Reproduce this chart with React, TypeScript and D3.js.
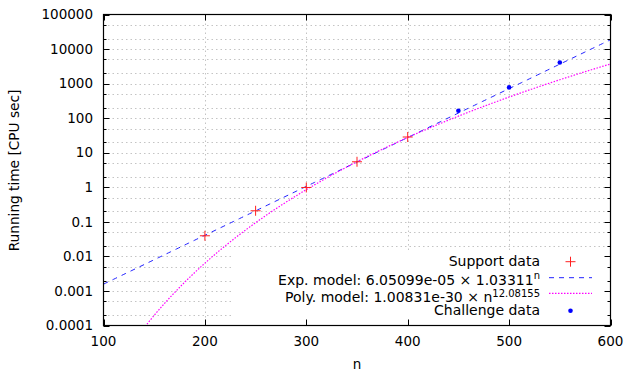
import React from "react";
import * as d3 from "d3";

// ---- data ----
const supportN = [200, 250, 300, 350, 400];
const supportT = [0.0395, 0.209, 0.986, 5.47, 28.5];
const challengeN = [450, 500, 550];
const challengeT = [164, 776, 4070];
const expA = 6.05099e-5;
const expB = 1.03311;
const polyA = 1.00831e-30;
const polyK = 12.08155;
const xTicks = [100, 200, 300, 400, 500, 600];
const yTicks = [1e-4, 1e-3, 1e-2, 1e-1, 1, 10, 100, 1000, 10000, 100000];
const yTickLabels = ["0.0001", "0.001", "0.01", "0.1", "1", "10", "100", "1000", "10000", "100000"];
const legendLabels = ["Support data", "Exp. model: 6.05099e-05 × 1.03311", "Poly. model: 1.00831e-30 × n", "Challenge data"];
const legendSups = ["", "n", "12.08155", ""];

const W = 628, H = 371;
const L = 103.5, R = 610.5, T = 14.5, B = 325.5;
const FONT = "'DejaVu Sans', sans-serif";
const FS = 13.5;

export default function App() {
  const x = d3.scaleLinear().domain([100, 600]).range([L, R]);
  const y = d3.scaleLog().domain([1e-4, 1e5]).range([B, T]);

  const ns = d3.range(100, 600.01, 2);
  const expLine = d3.line<number>().x((n) => x(n)).y((n) => y(expA * Math.pow(expB, n)));
  const polyLine = d3.line<number>().x((n) => x(n)).y((n) => y(polyA * Math.pow(n, polyK)));

  const minor: number[] = [];
  for (let k = -4; k <= 4; k++) {
    minor.push(2 * Math.pow(10, k), 5 * Math.pow(10, k));
  }
  const gridY = [...yTicks.slice(1, -1), ...minor];
  const grey = "#c4c4c4";

  const legY = [261.7, 277.7, 293.3, 310.7];
  const legTextY = [266, 284.5, 302, 315];
  const sx0 = 549, sx1 = 592, tx = 540;

  return (
    <svg width={W} height={H} style={{ position: "absolute", left: 0, top: 0, background: "#fff" }} fontFamily={FONT}>
      <defs>
        <clipPath id="plotclip">
          <rect x={L} y={T} width={R - L} height={B - T} />
        </clipPath>
      </defs>
      <rect x={0} y={0} width={W} height={H} fill="#fff" />
      {/* grid */}
      <g stroke={grey} strokeWidth={1} strokeDasharray="1.5,3">
        {gridY.map((v, i) => (
          <line key={"gy" + i} x1={L} x2={R} y1={Math.round(y(v)) + 0.5} y2={Math.round(y(v)) + 0.5} />
        ))}
        {xTicks.slice(1, -1).map((v) => (
          <line key={"gx" + v} x1={Math.round(x(v)) + 0.5} x2={Math.round(x(v)) + 0.5} y1={T} y2={B} />
        ))}
      </g>
      {/* curves */}
      <g clipPath="url(#plotclip)" fill="none">
        <path d={expLine(ns) || ""} stroke="#2020ff" strokeWidth={1} strokeDasharray="5,5" />
        <path d={polyLine(ns) || ""} stroke="#ff00ff" strokeWidth={1.2} strokeDasharray="1.5,1.5" />
      </g>
      {/* support data */}
      <g stroke="#ff2020" strokeWidth={1}>
        {supportN.map((n, i) => (
          <g key={"s" + i}>
            <line x1={x(n) - 5} x2={x(n) + 5} y1={y(supportT[i])} y2={y(supportT[i])} />
            <line x1={x(n)} x2={x(n)} y1={y(supportT[i]) - 5} y2={y(supportT[i]) + 5} />
          </g>
        ))}
      </g>
      {/* challenge data */}
      <g fill="#0000ff">
        {challengeN.map((n, i) => (
          <circle key={"c" + i} cx={x(n)} cy={y(challengeT[i])} r={2.3} />
        ))}
      </g>
      {/* legend box */}
      <rect x={233} y={252} width={R - 233} height={B - 252} fill="#fff" />
      <g fontSize={14} textAnchor="end" fill="#000">
        {legendLabels.map((t, i) => (
          <text key={"lt" + i} x={tx} y={legTextY[i]}>
            {t}
            {legendSups[i] ? (
              <tspan fontSize={10} dy={-5.5}>{legendSups[i]}</tspan>
            ) : null}
          </text>
        ))}
      </g>
      <g>
        <line x1={(sx0 + sx1) / 2 - 5} x2={(sx0 + sx1) / 2 + 5} y1={legY[0]} y2={legY[0]} stroke="#ff2020" />
        <line x1={(sx0 + sx1) / 2} x2={(sx0 + sx1) / 2} y1={legY[0] - 5} y2={legY[0] + 5} stroke="#ff2020" />
        <line x1={sx0} x2={sx1} y1={legY[1]} y2={legY[1]} stroke="#2020ff" strokeDasharray="5,5" />
        <line x1={sx0} x2={sx1} y1={legY[2]} y2={legY[2]} stroke="#ff00ff" strokeWidth={1.2} strokeDasharray="1.5,1.5" />
        <circle cx={(sx0 + sx1) / 2} cy={legY[3]} r={2.3} fill="#0000ff" />
      </g>
      {/* ticks */}
      <g stroke="#000" strokeWidth={1}>
        {yTicks.map((v) => {
          const yy = Math.round(y(v)) + 0.5;
          return (
            <g key={"yt" + v}>
              <line x1={L} x2={L + 6} y1={yy} y2={yy} />
              <line x1={R} x2={R - 6} y1={yy} y2={yy} />
            </g>
          );
        })}
        {minor.map((v, i) => {
          const yy = Math.round(y(v)) + 0.5;
          return (
            <g key={"ym" + i}>
              <line x1={L} x2={L + 3} y1={yy} y2={yy} />
              <line x1={R} x2={R - 3} y1={yy} y2={yy} />
            </g>
          );
        })}
        {xTicks.map((v) => {
          const xx = Math.round(x(v)) + 0.5;
          return (
            <g key={"xt" + v}>
              <line x1={xx} x2={xx} y1={B} y2={B - 6} />
              <line x1={xx} x2={xx} y1={T} y2={T + 6} />
            </g>
          );
        })}
      </g>
      {/* border */}
      <rect x={L} y={T} width={R - L} height={B - T} fill="none" stroke="#000" strokeWidth={1.2} />
      {/* tick labels */}
      <g fontSize={FS} fill="#000">
        {yTicks.map((v, i) => (
          <text key={"yl" + v} x={93} y={y(v)} dy="0.35em" textAnchor="end">{yTickLabels[i]}</text>
        ))}
        {xTicks.map((v) => (
          <text key={"xl" + v} x={x(v)} y={346} textAnchor="middle">{v}</text>
        ))}
        <text x={(L + R) / 2} y={369} textAnchor="middle">n</text>
        <text fontSize={13.7} transform={`translate(18.5,${(T + B) / 2 + 0.5}) rotate(-90)`} textAnchor="middle">Running time [CPU sec]</text>
      </g>
    </svg>
  );
}
